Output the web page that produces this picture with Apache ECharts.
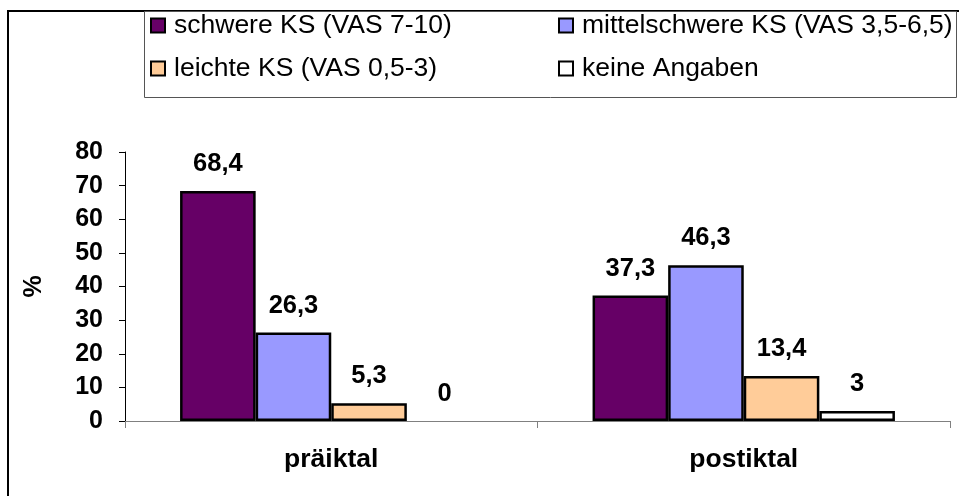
<!DOCTYPE html>
<html>
<head>
<meta charset="utf-8">
<script src="https://cdn.jsdelivr.net/npm/echarts@6/dist/echarts.min.js"></script>
<style>
html,body{margin:0;padding:0;background:#fff;}
#chart{width:959px;height:496px;}
</style>
</head>
<body>
<div id="chart"></div>
<script>
const categories = ['präiktal', 'postiktal'];
const seriesNames = ['schwere KS (VAS 7-10)', 'mittelschwere KS (VAS 3,5-6,5)', 'leichte KS (VAS 0,5-3)', 'keine Angaben'];
const schwere = [68.4, 37.3];
const mittelschwere = [26.3, 46.3];
const leichte = [5.3, 13.4];
const keineAngaben = [0, 3];
const yTicks = [0, 10, 20, 30, 40, 50, 60, 70, 80];
const colors = ['#660066', '#9999FF', '#FFCC99', '#FFFFFF'];

const FONT = "'Liberation Sans', Arial, sans-serif";
const chart = echarts.init(document.getElementById('chart'));

function mkSeries(name, vals, color) {
  return {
    name: name,
    type: 'bar',
    barGap: '0%',
    barCategoryGap: '26.7%',
    data: vals.map(v => v === 0 ? { value: v, itemStyle: { borderWidth: 0 } } : v),
    itemStyle: { color: color, borderColor: '#000', borderWidth: 2.5 },
    label: {
      show: true,
      position: 'top',
      distance: 14,
      color: '#000',
      fontFamily: FONT,
      fontWeight: 'bold',
      fontSize: 25.5,
      formatter: p => String(p.value).replace('.', ',')
    },
    emphasis: { disabled: true },
    animation: false
  };
}

const legendText = { color: '#000', fontFamily: FONT, fontSize: 26.5, padding: [0, 0, 0, 4], lineHeight: 27 };

chart.setOption({
  animation: false,
  graphic: [
    { type: 'rect', shape: { x: 8, y: 11, width: 1000, height: 600 }, style: { fill: 'none', stroke: '#000', lineWidth: 2 }, z: -1 },
    { type: 'rect', shape: { x: 144.5, y: 11.5, width: 812, height: 86 }, style: { fill: '#fff', stroke: '#555', lineWidth: 1 }, z: 0 }
  ],
  legend: [
    {
      orient: 'vertical', left: 145, top: 12, padding: [0, 5, 0, 5],
      data: [seriesNames[0], seriesNames[2]],
      icon: 'rect', itemWidth: 14, itemHeight: 14, itemGap: 16,
      textStyle: legendText, z: 5
    },
    {
      orient: 'vertical', left: 553, top: 12, padding: [0, 5, 0, 5],
      data: [seriesNames[1], seriesNames[3]],
      icon: 'rect', itemWidth: 14, itemHeight: 14, itemGap: 16,
      textStyle: legendText, z: 5
    }
  ],
  grid: { left: 125, right: 9, top: 152, bottom: 75, containLabel: false },
  xAxis: {
    type: 'category',
    data: categories,
    axisLine: { show: true, lineStyle: { color: '#808080', width: 1 } },
    axisTick: { show: true, length: 7, lineStyle: { color: '#808080' } },
    axisLabel: { color: '#000', fontFamily: FONT, fontWeight: 'bold', fontSize: 26.5, margin: 25 },
    splitLine: { show: false }
  },
  yAxis: {
    type: 'value',
    min: yTicks[0], max: yTicks[yTicks.length - 1], interval: yTicks[1] - yTicks[0],
    name: '%',
    nameLocation: 'middle',
    nameGap: 78,
    nameTextStyle: { color: '#000', fontFamily: FONT, fontWeight: 'bold', fontSize: 25 },
    axisLine: { show: true, lineStyle: { color: '#000', width: 1 } },
    axisTick: { show: true, length: 6, lineStyle: { color: '#000' } },
    axisLabel: { color: '#000', fontFamily: FONT, fontWeight: 'bold', fontSize: 25, margin: 22 },
    splitLine: { show: false }
  },
  series: [
    mkSeries(seriesNames[0], schwere, colors[0]),
    mkSeries(seriesNames[1], mittelschwere, colors[1]),
    mkSeries(seriesNames[2], leichte, colors[2]),
    mkSeries(seriesNames[3], keineAngaben, colors[3])
  ]
});
</script>
</body>
</html>
